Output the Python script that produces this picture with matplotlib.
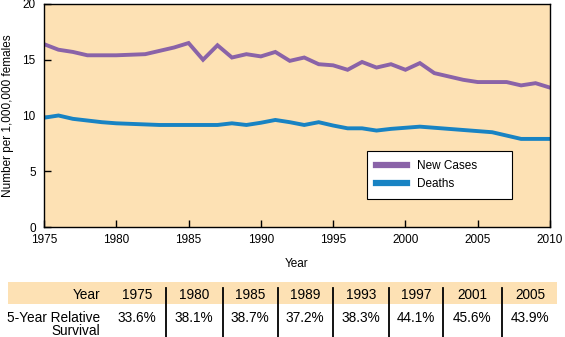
import matplotlib.pyplot as plt
from matplotlib.lines import Line2D
from matplotlib.patches import Rectangle

plt.rcParams['font.family'] = ['Liberation Sans', 'DejaVu Sans']

# ======================
# DATA
# ======================
years = list(range(1975, 2011))
new_cases = [16.4, 15.9, 15.7, 15.4, 15.4, 15.4, 15.45, 15.5, 15.8, 16.1,
             16.5, 15.0, 16.3, 15.2, 15.5, 15.3, 15.7, 14.9, 15.2, 14.6,
             14.5, 14.1, 14.8, 14.3, 14.6, 14.1, 14.7, 13.8, 13.5, 13.2,
             13.0, 13.0, 13.0, 12.7, 12.9, 12.5]
deaths = [9.8, 10.0, 9.7, 9.55, 9.4, 9.3, 9.25, 9.2, 9.15, 9.15,
          9.15, 9.15, 9.15, 9.3, 9.15, 9.35, 9.6, 9.4, 9.15, 9.4,
          9.1, 8.85, 8.85, 8.65, 8.8, 8.9, 9.0, 8.9, 8.8, 8.7,
          8.6, 8.5, 8.2, 7.9, 7.9, 7.9]

table_years = ['1975', '1980', '1985', '1989', '1993', '1997', '2001', '2005']
survival = ['33.6%', '38.1%', '38.7%', '37.2%', '38.3%', '44.1%', '45.6%', '43.9%']

PURPLE = '#8a63a8'
BLUE = '#1883c3'
PEACH = '#fde1b4'

W, H = 565, 337
fig = plt.figure(figsize=(W / 100, H / 100), dpi=100)
ax = fig.add_axes([44 / W, 1 - 227 / H, 506 / W, 223 / H])
ax.set_facecolor(PEACH)

ax.plot(years, new_cases, color=PURPLE, lw=2.8, solid_joinstyle='miter')
ax.plot(years, deaths, color=BLUE, lw=2.8, solid_joinstyle='miter')

ax.set_xlim(1975, 2010)
ax.set_ylim(0, 20)
ax.set_xticks(range(1975, 2011, 5))
ax.set_yticks(range(0, 21, 5))
ax.tick_params(direction='in', length=5, width=1, labelsize=8.5)
ax.tick_params(axis='x', pad=5)
ax.tick_params(axis='y', pad=6)
for s in ax.spines.values():
    s.set_linewidth(1)
ax.set_xlabel('Year', fontsize=8.5, labelpad=9)
ax.set_ylabel('Number per 1,000,000 females', fontsize=8.5, va='center')
ax.yaxis.set_label_coords((8 - 44) / 506, 0.5)

handles = [Line2D([], [], color=PURPLE, lw=4.5), Line2D([], [], color=BLUE, lw=4.5)]
leg = ax.legend(handles, ['New Cases', 'Deaths'], loc='lower left', mode='expand',
                bbox_to_anchor=((367 - 44) / 506, (227 - 199) / 223, 145 / 506, 46 / 223),
                frameon=True, fancybox=False, fontsize=8.5, handlelength=2.6,
                handletextpad=0.9, borderpad=0.75, labelspacing=0.5, borderaxespad=0)
leg.get_frame().set_edgecolor('black')
leg.get_frame().set_linewidth(0.8)
leg.get_frame().set_facecolor('white')
leg.get_frame().set_alpha(1)

# ======================
# SURVIVAL TABLE
# ======================
def fx(px):
    return px / W

def fy(py):
    return 1 - py / H

band = Rectangle((fx(8), fy(304)), fx(557) - fx(8), fy(282) - fy(304),
                 transform=fig.transFigure, facecolor=PEACH, edgecolor='none', zorder=0)
fig.add_artist(band)

col_x = [137, 194, 250, 305, 361, 416, 472, 530]
sep_x = [166, 223, 278, 333, 389, 443, 502]

fs = 9.8
fig.text(fx(100), fy(295), 'Year', ha='right', va='center', fontsize=fs)
fig.text(fx(100), fy(318), '5-Year Relative', ha='right', va='center', fontsize=fs)
fig.text(fx(100), fy(331), 'Survival', ha='right', va='center', fontsize=fs)
for x, yr, sv in zip(col_x, table_years, survival):
    fig.text(fx(x), fy(295), yr, ha='center', va='center', fontsize=fs)
    fig.text(fx(x), fy(318), sv, ha='center', va='center', fontsize=fs)
for x in sep_x:
    fig.add_artist(Line2D([fx(x), fx(x)], [fy(288), fy(337)], color='black', lw=1.3,
                          transform=fig.transFigure))

fig.savefig('out.png', dpi=100)
